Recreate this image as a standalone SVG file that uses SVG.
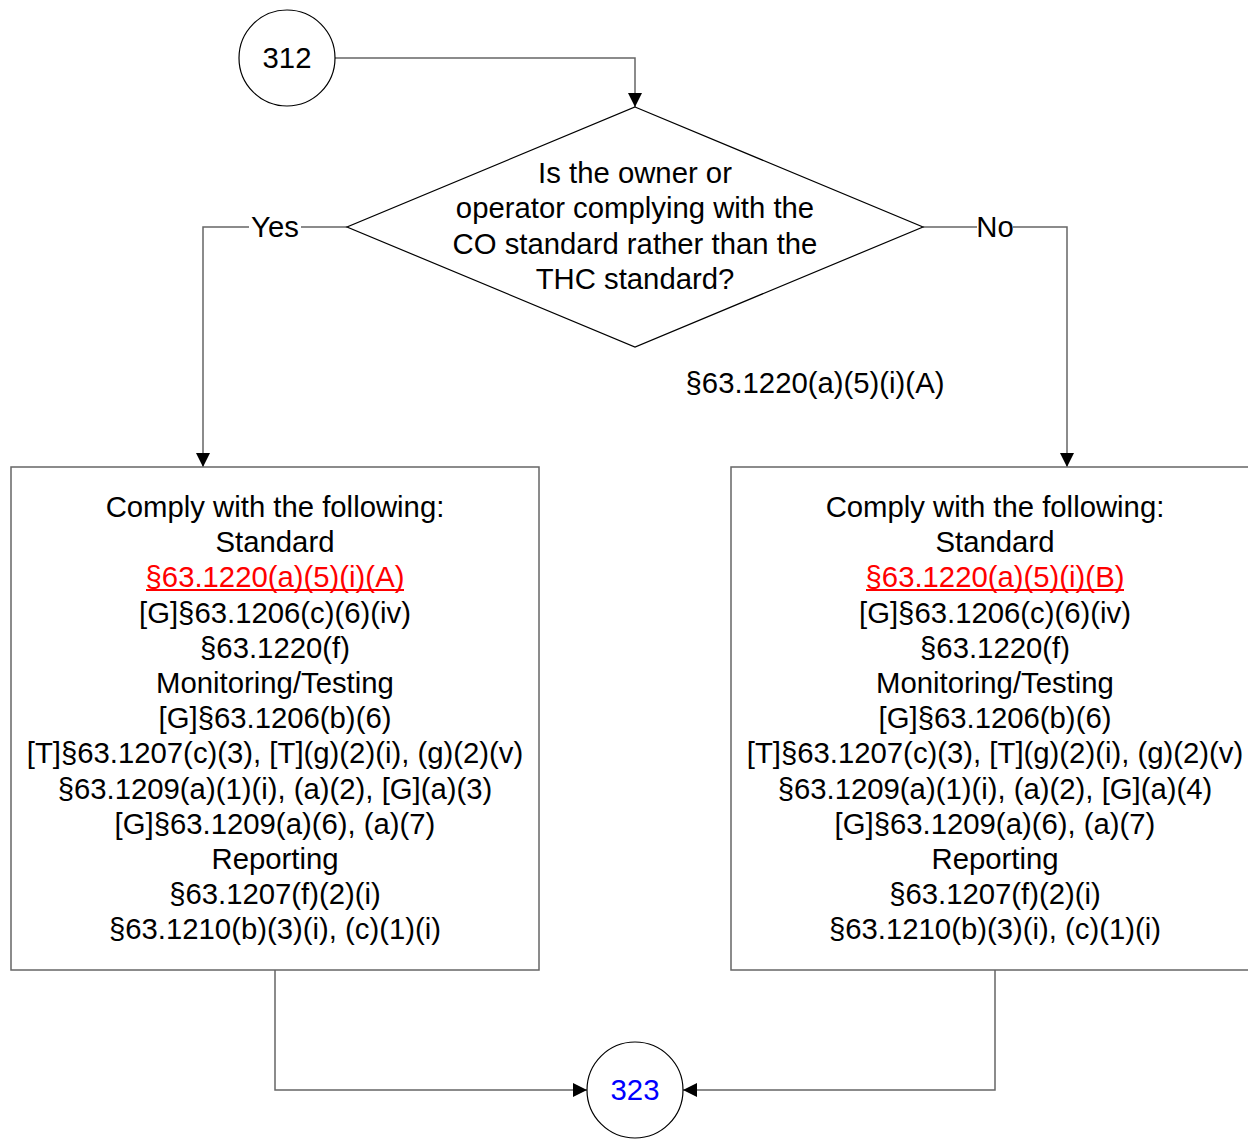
<svg xmlns="http://www.w3.org/2000/svg" width="1248" height="1139" viewBox="0 0 1248 1139">
<defs>
<style>
text{font-family:"Liberation Sans",Arial,sans-serif;font-size:29.3px;fill:#000;text-anchor:middle}
.node{fill:#fff;stroke:#000;stroke-width:1.2}
.box{fill:#fff;stroke:#666;stroke-width:1.5}
.conn{fill:none;stroke:#666;stroke-width:1.5}
.red{fill:#ff0000}
.uline{stroke:#ff0000;stroke-width:2}
.blue{fill:#0000ff}
</style>
<marker id="arr" markerUnits="userSpaceOnUse" markerWidth="14" markerHeight="14" viewBox="0 0 14 14" refX="14" refY="7" orient="auto">
<path d="M0,0 L14,7 L0,14 Z" fill="#000"/>
</marker>
</defs>
<rect width="1248" height="1139" fill="#fff"/>
<g id="connectors">
<path class="conn" d="M335,58 H635 V107" marker-end="url(#arr)"/>
<path class="conn" d="M347,227 H301 M249,227 H203 V467" marker-end="url(#arr)"/>
<path class="conn" d="M923,227 H977 M1013,227 H1067 V467" marker-end="url(#arr)"/>
<path class="conn" d="M275,970 V1090 H587" marker-end="url(#arr)"/>
<path class="conn" d="M995,970 V1090 H683" marker-end="url(#arr)"/>
<text x="275" y="237">Yes</text>
<text x="995" y="237">No</text>
<text x="815" y="393">§63.1220(a)(5)(i)(A)</text>
</g>
<g id="n312">
<circle class="node" cx="287" cy="58" r="48"/>
<text x="287" y="68">312</text>
</g>
<g id="decision">
<polygon class="node" points="635,107 923,227 635,347 347,227"/>
<text x="635" y="183">Is the owner or<tspan x="635" dy="35.3">operator complying with the</tspan><tspan x="635" dy="35.3">CO standard rather than the</tspan><tspan x="635" dy="35.3">THC standard?</tspan></text>
</g>
<g id="boxA">
<rect class="box" x="11" y="467" width="528" height="503"/>
<text x="275" y="517">Comply with the following:<tspan x="275" dy="35.2">Standard</tspan><tspan x="275" dy="35.2" class="red">§63.1220(a)(5)(i)(A)</tspan><tspan x="275" dy="35.2">[G]§63.1206(c)(6)(iv)</tspan><tspan x="275" dy="35.2">§63.1220(f)</tspan><tspan x="275" dy="35.2">Monitoring/Testing</tspan><tspan x="275" dy="35.2">[G]§63.1206(b)(6)</tspan><tspan x="275" dy="35.2">[T]§63.1207(c)(3), [T](g)(2)(i), (g)(2)(v)</tspan><tspan x="275" dy="35.2">§63.1209(a)(1)(i), (a)(2), [G](a)(3)</tspan><tspan x="275" dy="35.2">[G]§63.1209(a)(6), (a)(7)</tspan><tspan x="275" dy="35.2">Reporting</tspan><tspan x="275" dy="35.2">§63.1207(f)(2)(i)</tspan><tspan x="275" dy="35.2">§63.1210(b)(3)(i), (c)(1)(i)</tspan></text>
<line class="uline" x1="146" y1="590" x2="404" y2="590"/>
</g>
<g id="boxB">
<rect class="box" x="731" y="467" width="528" height="503"/>
<text x="995" y="517">Comply with the following:<tspan x="995" dy="35.2">Standard</tspan><tspan x="995" dy="35.2" class="red">§63.1220(a)(5)(i)(B)</tspan><tspan x="995" dy="35.2">[G]§63.1206(c)(6)(iv)</tspan><tspan x="995" dy="35.2">§63.1220(f)</tspan><tspan x="995" dy="35.2">Monitoring/Testing</tspan><tspan x="995" dy="35.2">[G]§63.1206(b)(6)</tspan><tspan x="995" dy="35.2">[T]§63.1207(c)(3), [T](g)(2)(i), (g)(2)(v)</tspan><tspan x="995" dy="35.2">§63.1209(a)(1)(i), (a)(2), [G](a)(4)</tspan><tspan x="995" dy="35.2">[G]§63.1209(a)(6), (a)(7)</tspan><tspan x="995" dy="35.2">Reporting</tspan><tspan x="995" dy="35.2">§63.1207(f)(2)(i)</tspan><tspan x="995" dy="35.2">§63.1210(b)(3)(i), (c)(1)(i)</tspan></text>
<line class="uline" x1="866" y1="590" x2="1124" y2="590"/>
</g>
<g id="n323">
<circle class="node" cx="635" cy="1090" r="48"/>
<text x="635" y="1100" class="blue">323</text>
</g>
</svg>
